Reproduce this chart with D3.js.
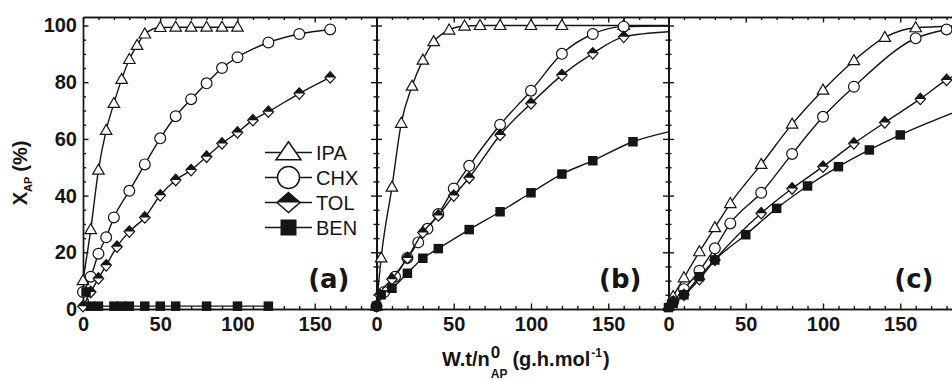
<!DOCTYPE html>
<html>
<head>
<meta charset="utf-8">
<script src="https://cdn.jsdelivr.net/npm/d3@7"></script>
<style>
  body { margin: 0; background: #fff; }
  text { font-family: "Liberation Sans", Arial, sans-serif; fill: #151515; }
</style>
</head>
<body>
<script>
'use strict';

// series, in legend order
const names = ["IPA", "CHX", "TOL", "BEN"];
const panelLabels = ["(a)", "(b)", "(c)"];
const xMajor = [0, 50, 100, 150];
const yMajor = [0, 20, 40, 60, 80, 100];

// panel (a): [W.t/n0AP, X_AP (%)]
const ipaA = [[0,10],[5,28],[10,49],[15,63],[20,72.5],[25,81],[30,88],[35,93],[40,97],[50,99.3],[60,99.4],[70,99.4],[80,99.4],[90,99.4],[100,99.4]];
const chxA = [[0,6],[5,11.4],[10,19.5],[15,25.3],[20,32.3],[30,41.7],[40,51],[50,60.2],[60,68],[70,74],[80,79.6],[90,85],[100,88.8],[120,94],[140,97],[160,98.6]];
const tolA = [[0,1],[5,6],[10,10.8],[15,15.4],[22,22],[30,27.3],[40,32.3],[50,40.1],[60,45.5],[70,49],[80,53.7],[90,58.4],[100,62.3],[110,66.6],[120,69.6],[140,76],[160,81.7]];
const benA = [[2,6],[5,1],[10,1],[20,1],[25,1],[30,1],[40,1],[50,1],[60,1],[80,1],[100,1],[120,1]];

// panel (b)
const ipaB = [[0,1],[3,18],[10,43],[16,65.5],[23,78.6],[30,87.8],[37,94.3],[47,98.4],[57,99.8],[67,100],[80,100],[100,100],[120,100],[160,100]];
const chxB = [[0,1],[5,6],[12,11.4],[20,18],[27,23.5],[33,28.3],[40,33.5],[50,42.5],[60,50.5],[80,65],[100,77],[120,90],[140,97],[160,99.6]];
const tolB = [[0,1],[2,5],[10,10.5],[20,18],[30,27],[40,33],[50,40],[60,46.3],[80,61.4],[100,72.5],[120,82.5],[140,90.2],[160,96]];
const benB = [[0,1],[3,5],[10,7.3],[20,12.6],[30,17.9],[40,21.3],[60,28],[80,34.3],[100,41],[120,47.6],[140,52.3],[166,59]];

// panel (c)
const ipaC = [[0,1],[3,4.4],[10,11],[20,20.2],[30,28.7],[40,37.2],[60,51],[80,65.2],[100,77.2],[120,87.6],[140,95.8],[160,99.2]];
const chxC = [[3,2.5],[10,7],[20,13.5],[30,21.4],[40,30.2],[60,41],[80,54.7],[100,67.8],[120,78.4],[160,95.5],[180,98.6]];
const tolC = [[3,2.6],[10,5],[20,10.5],[30,17.3],[60,33.8],[80,42.5],[100,50.2],[120,58.4],[140,65.8],[163,74.1],[180,80.8]];
const benC = [[0,0.5],[3,2],[10,5],[20,11.4],[30,17.3],[50,26.2],[70,35.5],[90,43.4],[110,50.2],[130,56.1],[150,61.4]];

// value of the fitted curve where it meets the right edge of the panel (null = not drawn)
const fitEndA = [null, null, null, null];
const fitEndB = [100, 99.8, 97.8, 62.5];
const fitEndC = [99.8, 99.4, 83.5, 70.2];

(function() {

  const W = 952, H = 380;
  const panelLeft = [83, 376.5, 668.5];
  const panelWidth = [293.5, 292, 292];
  const xMax = [190, 189, 189];
  const yMax = 103;
  const plotTop = 17, plotBottom = 309;
  const ink = "#151515";

  // marker sizes for the plot and for the (bigger) legend symbols
  const plotSize = { tri: [11.5, 10], r: 5.4, dia: [10.5, 11.5], sq: 9.5, sw: 1.2 };
  const legendSize = { tri: [25, 18], r: 11, dia: [23, 20], sq: 16, sw: 1.5 };

  let svg = "";

  window.onload = function() {
    svg = d3.select('body')
      .append('svg')
      .attr('width', W)
      .attr('height', H);

    const panels = [
      { series: [ipaA, chxA, tolA, benA], fitEnd: fitEndA },
      { series: [ipaB, chxB, tolB, benB], fitEnd: fitEndB },
      { series: [ipaC, chxC, tolC, benC], fitEnd: fitEndC }
    ];
    panels.forEach((p, i) => drawPanel(p, i));

    drawLegend();
    makeLabels();
  }

  // one panel: frame, ticks, curves and markers
  function drawPanel(p, i) {
    const x = d3.scaleLinear()
      .domain([0, xMax[i]])
      .range([panelLeft[i], panelLeft[i] + panelWidth[i]]);
    const y = d3.scaleLinear()
      .domain([0, yMax])
      .range([plotBottom, plotTop]);

    drawFrame(x, y, i);

    const line = d3.line()
      .x(d => x(d[0]))
      .y(d => y(d[1]))
      .curve(d3.curveMonotoneX);

    p.series.forEach((pts, k) => {
      let linePts = pts.slice();
      if (p.fitEnd[k] != null) linePts.push([xMax[i], p.fitEnd[k]]);

      svg.append('path')
        .datum(linePts)
        .attr('d', line)
        .attr('fill', 'none')
        .attr('stroke', ink)
        .attr('stroke-width', 1.4);

      svg.append('g').selectAll('g')
        .data(pts)
        .enter()
        .append('g')
          .attr('transform', d => `translate(${x(d[0])},${y(d[1])})`)
          .each(function() { addMarker(d3.select(this), k, plotSize); });
    });

    // panel letter
    svg.append('text')
      .attr('x', panelLeft[i] + panelWidth[i] - 27)
      .attr('y', 288)
      .attr('text-anchor', 'end')
      .style('font-family', '"DejaVu Sans", Verdana, sans-serif')
      .style('font-weight', 'bold')
      .style('font-size', '26px')
      .text(panelLabels[i]);
  }

  // draw box with inward ticks on all four sides
  function drawFrame(x, y, i) {
    const xMinor = d3.range(10, xMax[i], 10).filter(v => v % 50 !== 0);
    const yMinor = d3.range(5, yMax, 5).filter(v => v % 20 !== 0);
    const right = panelLeft[i] + panelWidth[i];
    const noLabel = () => "";

    const axes = [
      [d3.axisBottom(x).tickValues(xMinor).tickSize(-3).tickFormat(noLabel), `translate(0,${plotBottom})`],
      [d3.axisBottom(x).tickValues(xMajor).tickSize(-5.5).tickPadding(8), `translate(0,${plotBottom})`],
      [d3.axisTop(x).tickValues(xMinor).tickSize(-3).tickFormat(noLabel), `translate(0,${plotTop})`],
      [d3.axisTop(x).tickValues(xMajor).tickSize(-5.5).tickFormat(noLabel), `translate(0,${plotTop})`],
      [d3.axisLeft(y).tickValues(yMinor).tickSize(-3).tickFormat(noLabel), `translate(${panelLeft[i]},0)`],
      [d3.axisLeft(y).tickValues(yMajor).tickSize(-5.5).tickPadding(6)
        .tickFormat(i === 0 ? d3.format('d') : noLabel), `translate(${panelLeft[i]},0)`],
      [d3.axisRight(y).tickValues(yMinor).tickSize(-3).tickFormat(noLabel), `translate(${right},0)`],
      [d3.axisRight(y).tickValues(yMajor).tickSize(-5.5).tickFormat(noLabel), `translate(${right},0)`]
    ];

    axes.forEach(a => {
      const g = svg.append('g')
        .attr('transform', a[1])
        .call(a[0].tickSizeOuter(0));
      g.selectAll('path, line')
        .attr('stroke', ink)
        .attr('stroke-width', 1.4);
      g.selectAll('text')
        .attr('fill', ink)
        .style('font-family', '"Liberation Sans", Arial, sans-serif')
        .style('font-weight', 'bold')
        .style('font-size', '20px');
    });
  }

  // symbol k drawn into group g (centred at 0,0)
  function addMarker(g, k, sz) {
    if (k === 0) {
      const w = sz.tri[0], h = sz.tri[1];
      g.append('path')
        .attr('d', `M0,${-h * 0.6}L${w / 2},${h * 0.4}L${-w / 2},${h * 0.4}Z`)
        .attr('fill', '#fff')
        .attr('stroke', ink)
        .attr('stroke-width', sz.sw);
    } else if (k === 1) {
      g.append('circle')
        .attr('r', sz.r)
        .attr('fill', '#fff')
        .attr('stroke', ink)
        .attr('stroke-width', sz.sw);
    } else if (k === 2) {
      const w = sz.dia[0] / 2, h = sz.dia[1] / 2;
      g.append('path')
        .attr('d', `M0,${-h}L${w},0L0,${h}L${-w},0Z`)
        .attr('fill', '#fff');
      g.append('path')
        .attr('d', `M${-w},0L0,${-h}L${w},0Z`)
        .attr('fill', ink);
      g.append('path')
        .attr('d', `M0,${-h}L${w},0L0,${h}L${-w},0Z`)
        .attr('fill', 'none')
        .attr('stroke', ink)
        .attr('stroke-width', sz.sw);
    } else {
      const s = sz.sq;
      g.append('rect')
        .attr('x', -s / 2)
        .attr('y', -s / 2)
        .attr('width', s)
        .attr('height', s)
        .attr('fill', ink);
    }
  }

  // legend inside panel (a)
  function drawLegend() {
    const lx0 = 265, lx1 = 312;
    names.forEach((name, k) => {
      const cy = 152.5 + k * 25;
      svg.append('line')
        .attr('x1', lx0).attr('x2', lx1)
        .attr('y1', cy).attr('y2', cy)
        .attr('stroke', ink)
        .attr('stroke-width', 1.5);
      const g = svg.append('g')
        .attr('transform', `translate(${(lx0 + lx1) / 2},${cy})`);
      addMarker(g, k, legendSize);
      svg.append('text')
        .attr('x', 316)
        .attr('y', cy + 7)
        .style('font-size', '20px')
        .text(name);
    });
  }

  // axis titles
  function makeLabels() {
    // y title: X_AP (%)
    const yt = svg.append('text')
      .attr('transform', 'translate(27,173)rotate(-90)')
      .attr('text-anchor', 'middle')
      .style('font-weight', 'bold')
      .style('font-size', '20px');
    yt.append('tspan').text('X');
    yt.append('tspan').attr('dy', 5).style('font-size', '11px').text('AP');
    yt.append('tspan').attr('dy', -5).attr('dx', 5).text('(%)');

    // x title: W.t/n0AP (g.h.mol-1)
    const base = 366;
    let cx = 442;
    const g = svg.append('g').style('font-weight', 'bold');
    const t1 = g.append('text').attr('x', cx).attr('y', base)
      .style('font-size', '20px').text('W.t/n');
    cx += t1.node().getComputedTextLength() + 1;
    const sup = g.append('text').attr('x', cx).attr('y', base - 8)
      .style('font-size', '17px').text('0');
    const sub = g.append('text').attr('x', cx).attr('y', base + 12)
      .style('font-size', '12px').text('AP');
    cx += Math.max(sup.node().getComputedTextLength(), sub.node().getComputedTextLength()) + 5;
    const t2 = g.append('text').attr('x', cx).attr('y', base)
      .style('font-size', '20px').text('(g.h.mol');
    cx += t2.node().getComputedTextLength() + 1;
    const t3 = g.append('text').attr('x', cx).attr('y', base - 9)
      .style('font-size', '12px').text('-1');
    cx += t3.node().getComputedTextLength() + 1;
    g.append('text').attr('x', cx).attr('y', base)
      .style('font-size', '20px').text(')');
  }

})();
</script>
</body>
</html>
